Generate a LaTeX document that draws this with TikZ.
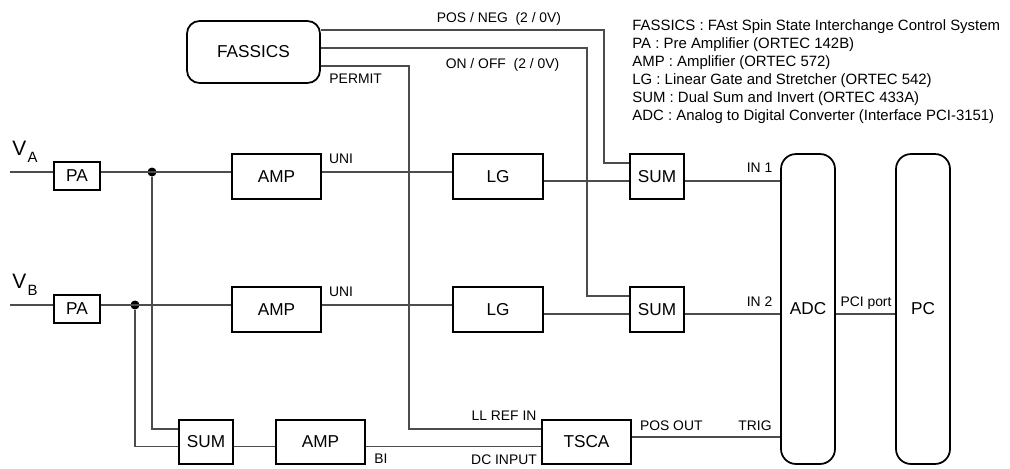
\documentclass[tikz,border=0pt]{standalone}
\usepackage{fontspec}
\setmainfont{Liberation Sans}

\tikzset{
    blk/.style={draw, line width=1pt, inner sep=0pt, font=\fontsize{9.8}{11}\selectfont},
    rblk/.style={blk, rounded corners=0.25cm},
    wire/.style={draw=black!70, line width=0.6pt},
    lbl/.style={inner sep=0pt, anchor=base, font=\fontsize{7.9}{9}\selectfont},
    jdot/.style={circle, fill=black, inner sep=0pt, minimum size=0.18cm},
}

\begin{document}
\begin{tikzpicture}[x=0.02cm, y=-0.02cm]
    \useasboundingbox (0,0) rectangle (1010,468);

    % blocks
    \node [rblk, minimum width=2.66cm, minimum height=1.24cm] (fassics) at (253.5,52) {FASSICS};
    \node [blk, minimum width=0.92cm, minimum height=0.56cm] (paA) at (77,176) {PA};
    \node [blk, minimum width=0.92cm, minimum height=0.56cm] (paB) at (77,309) {PA};
    \node [blk, minimum width=1.78cm, minimum height=0.9cm] (ampA) at (276.5,176.5) {AMP};
    \node [blk, minimum width=1.78cm, minimum height=0.9cm] (ampB) at (276.5,309.5) {AMP};
    \node [blk, minimum width=1.8cm, minimum height=0.9cm] (lgA) at (498,176.5) {LG};
    \node [blk, minimum width=1.8cm, minimum height=0.9cm] (lgB) at (498,309.5) {LG};
    \node [blk, minimum width=1.08cm, minimum height=0.9cm] (sumA) at (657,176.5) {SUM};
    \node [blk, minimum width=1.08cm, minimum height=0.9cm] (sumB) at (657,309.5) {SUM};
    \node [blk, minimum width=1.08cm, minimum height=0.88cm] (sumC) at (206,442) {SUM};
    \node [blk, minimum width=1.78cm, minimum height=0.88cm] (ampC) at (320.5,442) {AMP};
    \node [blk, minimum width=1.78cm, minimum height=0.88cm] (tsca) at (586.5,442) {TSCA};
    \node [rblk, rounded corners=0.3cm, minimum width=1.08cm, minimum height=6.2cm] (adc) at (808,309) {ADC};
    \node [rblk, rounded corners=0.3cm, minimum width=1.08cm, minimum height=6.2cm] (pc) at (923,309) {PC};

    % inputs
    \node [anchor=base west, inner sep=0pt] (vA) at (12,155)
        {\fontsize{11.9}{14}\selectfont V\kern0.8pt\raisebox{-4.5pt}{\fontsize{8.5}{10}\selectfont A}};
    \node [anchor=base west, inner sep=0pt] (vB) at (12,288)
        {\fontsize{11.9}{14}\selectfont V\kern0.8pt\raisebox{-4.5pt}{\fontsize{8.5}{10}\selectfont B}};
    \coordinate (inA) at (10,172);
    \coordinate (inB) at (10,305);
    \node [jdot] (dotA) at (152,172) {};
    \node [jdot] (dotB) at (135,305) {};

    % signal rows
    \coordinate (rA0) at (0,163);
    \coordinate (rA) at (0,172);
    \coordinate (rA2) at (0,181);
    \coordinate (rB0) at (0,296);
    \coordinate (rB) at (0,305);
    \coordinate (rB2) at (0,314);
    \coordinate (rC0) at (0,429);
    \coordinate (rT) at (0,437);
    \coordinate (rC) at (0,446.5);

    % fassics bends
    \coordinate (pn) at (604,30);
    \coordinate (oo) at (587,48);
    \coordinate (pm) at (409,66);

    \draw [wire] (inA) -- (paA.west |- rA);
    \draw [wire] (paA.east |- rA) -- (ampA.west |- rA);
    \draw [wire] (ampA.east |- rA) -- (lgA.west |- rA);
    \draw [wire] (lgA.east |- rA2) -- (sumA.west |- rA2);
    \draw [wire] (sumA.east |- rA2) -- (adc.west |- rA2);

    \draw [wire] (inB) -- (paB.west |- rB);
    \draw [wire] (paB.east |- rB) -- (ampB.west |- rB);
    \draw [wire] (ampB.east |- rB) -- (lgB.west |- rB);
    \draw [wire] (lgB.east |- rB2) -- (sumB.west |- rB2);
    \draw [wire] (sumB.east |- rB2) -- (adc.west |- rB2);

    \draw [wire] (fassics.east |- pn) -- (pn) |- (sumA.west |- rA0);
    \draw [wire] (fassics.east |- oo) -- (oo) |- (sumB.west |- rB0);
    \draw [wire] (fassics.east |- pm) -- (pm) |- (tsca.west |- rC0);

    \draw [wire] (dotA) |- (sumC.west |- rC0);
    \draw [wire] (dotB) |- (sumC.west |- rC);
    \draw [wire] (sumC.east |- rC) -- (ampC.west |- rC);
    \draw [wire] (ampC.east |- rC) -- (tsca.west |- rC);
    \draw [wire] (tsca.east |- rT) -- (adc.west |- rT);
    \draw [wire] (adc.east |- rB2) -- (pc.west |- rB2);

    % labels
    \node [lbl] (posneg) at (499,22) {POS / NEG \ (2 / 0V)};
    \node [lbl] (onoff) at (502.5,68) {ON / OFF \ (2 / 0V)};
    \node [lbl] (permit) at (355.7,83) {PERMIT};
    \node [lbl] (uniA) at (341,163) {UNI};
    \node [lbl] (uniB) at (341,296) {UNI};
    \node [lbl] (in1) at (759.5,172) {IN 1};
    \node [lbl] (in2) at (759.5,306) {IN 2};
    \node [lbl] (pci) at (866,306) {PCI port};
    \node [lbl] (trig) at (755,430) {TRIG};
    \node [lbl] (posout) at (671.3,430) {POS OUT};
    \node [lbl] (llref) at (504,420) {LL REF IN};
    \node [lbl] (dcin) at (504,464) {DC INPUT};
    \node [lbl] (bi) at (381,463) {BI};

    % legend
    \node [anchor=north west, inner sep=0pt, align=left, font=\fontsize{8.5}{10.3}\selectfont] (legend) at (632,19)
        {FASSICS : FAst Spin State Interchange Control System\\
         PA : Pre Amplifier (ORTEC 142B)\\
         AMP : Amplifier (ORTEC 572)\\
         LG : Linear Gate and Stretcher (ORTEC 542)\\
         SUM : Dual Sum and Invert (ORTEC 433A)\\
         ADC : Analog to Digital Converter (Interface PCI-3151)};
\end{tikzpicture}
\end{document}
